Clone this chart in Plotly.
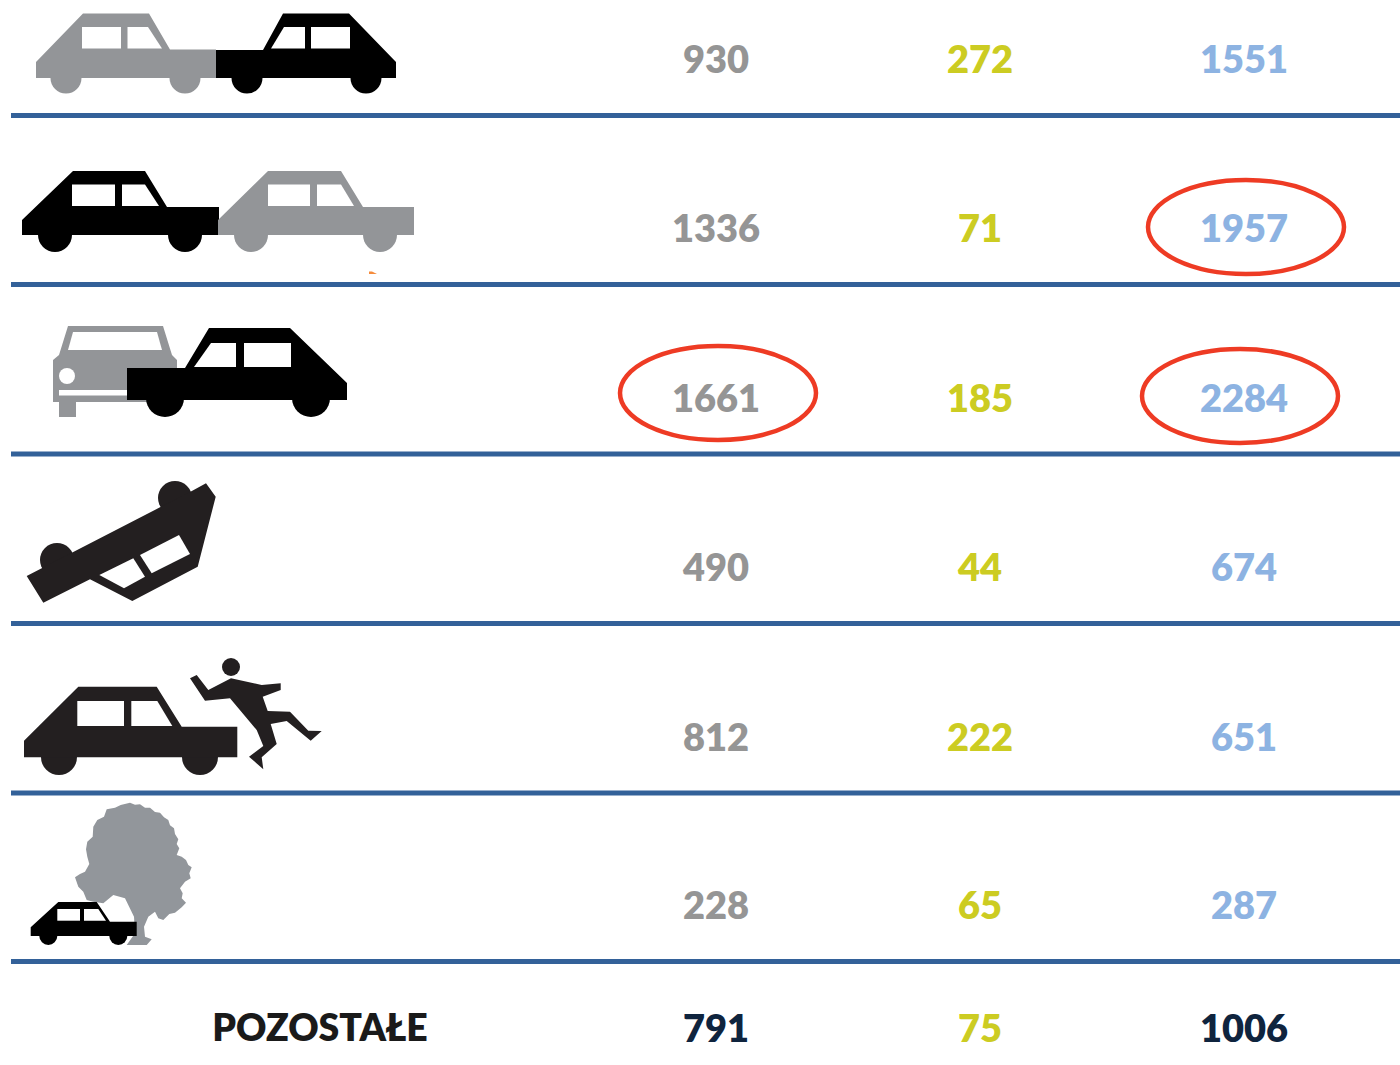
import plotly.graph_objects as go

# ---- data ----
row_labels = ["czołowe boczne tył", "tył", "boczne", "dachowanie", "pieszy", "drzewo", "POZOSTAŁE"]
col_a = [930, 1336, 1661, 490, 812, 228, 791]
col_b = [272, 71, 185, 44, 222, 65, 75]
col_c = [1551, 1957, 2284, 674, 651, 287, 1006]
other_label = "POZOSTAŁE"

# ---- layout constants (pixels) ----
W, H = 1400, 1065
COL_X = [716, 980, 1244]
ROW_Y = [63, 232, 402, 571, 741, 909, 1032]
RULES_Y = [115.5, 284.5, 454, 623.5, 793, 961.5]
GREY_T, YEL, BLUE, NAVY = "#959595", "#CCCC22", "#8DB3E2", "#0F243E"
G, K, K2, W_ = "#939598", "#000000", "#231F20", "#FFFFFF"
RULE = "#336199"
RED = "#EE3B24"

shapes = []

def poly(pts, color):
    d = "M " + " L ".join(f"{x:.1f},{y:.1f}" for x, y in pts) + " Z"
    shapes.append(dict(type="path", path=d, fillcolor=color, line=dict(width=0), layer="above"))

def circ(cx, cy, r, color):
    shapes.append(dict(type="circle", x0=cx - r, x1=cx + r, y0=cy - r, y1=cy + r,
                       fillcolor=color, line=dict(width=0), layer="above"))

def z(pts, y0):
    return [(x / 3, y0 + y / 3) for x, y in pts]

# row 1
circ(66, 78, 15.5, G); circ(185, 78, 15.5, G)
poly([(36, 62), (83, 13.5), (149, 13.5), (170, 49.5), (216, 49.5), (216, 78), (36, 78)], G)
poly([(82, 27), (121, 27), (121, 48.5), (82, 48.5)], W_)
poly([(127.5, 27), (148, 27), (162, 48.5), (127.5, 48.5)], W_)
circ(247, 78, 15.5, K); circ(366, 78, 15.5, K)
poly([(216, 50), (263, 50), (283, 13.5), (349, 13.5), (396, 62), (396, 78), (216, 78)], K)
poly([(271, 48.5), (284, 27), (305, 27), (305, 48.5)], W_)
poly([(311, 27), (350, 27), (350, 48.5), (311, 48.5)], W_)

# row 2
circ(55, 235, 17, K); circ(185, 235, 17, K)
poly([(22, 220), (73, 171), (145, 171), (167, 207), (219, 207), (219, 235), (22, 235)], K)
poly([(72, 184.5), (115, 184.5), (115, 206), (72, 206)], W_)
poly([(122, 184.5), (145, 184.5), (159, 206), (122, 206)], W_)
circ(251, 235, 17, G); circ(380, 235, 17, G)
poly([(218, 220), (268, 171), (341, 171), (363, 207), (414, 207), (414, 235), (218, 235)], G)
poly([(268, 184.5), (310, 184.5), (310, 206), (268, 206)], W_)
poly([(317, 184.5), (341, 184.5), (354, 206), (317, 206)], W_)
poly([(369, 271.5), (372, 271.5), (377, 274), (369, 274)], "#F58B3C")

# row 3
poly([(53, 402), (53, 360), (59, 355), (68, 326), (163, 326), (172, 355), (177, 360), (177, 402)], G)
poly([(59, 402), (76, 402), (76, 417), (59, 417)], G)
poly([(68, 350), (73, 332), (157, 332), (162, 350)], W_)
circ(67, 376, 8, W_)
poly([(59, 390), (130, 390), (130, 395.5), (59, 395.5)], W_)
circ(165, 398, 19, K); circ(311, 398, 19, K)
poly([(127, 368), (185, 368), (209, 328), (290, 328), (347, 383), (347, 400), (127, 400)], K)
poly([(194, 367), (211, 343), (236, 343), (236, 367)], W_)
poly([(244, 343), (291, 343), (291, 367), (244, 367)], W_)

# row 4
circ(57, 560, 17, K2); circ(175, 498, 17, K2)
poly(z([(80, 828), (480, 622), (577, 572), (618, 550), (647, 590), (593, 800), (397, 903), (270, 838), (130, 908)], 300), K2)
poly(z([(298, 825), (400, 775), (435, 830), (372, 865)], 300), W_)
poly(z([(420, 765), (537, 705), (570, 762), (455, 820)], 300), W_)

# row 5
circ(59, 757, 18, K2); circ(200, 757, 18, K2)
poly(z([(72, 302), (235, 140), (470, 140), (545, 260), (712, 260), (712, 352), (72, 352)], 640), K2)
poly(z([(232, 183), (372, 183), (372, 258), (232, 258)], 640), W_)
poly(z([(394, 183), (472, 183), (517, 258), (394, 258)], 640), W_)
circ(231, 667, 9, K2)
poly(z([(570, 115), (590, 105), (625, 150), (693, 115), (785, 135), (842, 130), (842, 150), (788, 170),
        (803, 213), (870, 215), (925, 272), (965, 273), (932, 302), (860, 243), (812, 252), (830, 312),
        (785, 352), (790, 388), (747, 350), (790, 318), (770, 270), (690, 175), (615, 182)], 640), K2)

# row 6
TREE = "#92969B"
poly(z([(390, 488), (405, 494), (420, 493), (435, 503), (450, 503), (465, 516), (480, 518), (492, 532), (505, 540),
        (510, 556), (522, 565), (525, 582), (535, 598), (530, 612), (538, 625), (530, 645), (545, 650), (558, 660),
        (565, 675), (575, 682), (568, 700), (572, 715), (555, 725), (540, 745), (548, 760), (545, 775), (558, 788),
        (545, 802), (525, 818), (508, 822), (490, 840), (475, 835), (465, 815), (445, 830), (432, 860), (435, 890),
        (455, 898), (440, 915), (380, 915), (405, 880), (402, 830), (375, 775), (340, 765), (310, 790), (280, 785),
        (260, 780), (250, 755), (235, 740), (225, 712), (240, 702), (255, 695), (268, 672), (262, 650), (258, 628),
        (262, 605), (278, 590), (280, 560), (292, 540), (312, 530), (320, 508), (345, 503), (362, 495)], 640), TREE)
circ(48.3, 936, 9, K); circ(118.3, 936, 9, K)
poly(z([(92, 862), (175, 786), (290, 786), (330, 845), (410, 845), (410, 888), (92, 888)], 640), K)
poly(z([(172, 807), (240, 807), (240, 842), (172, 842)], 640), W_)
poly(z([(252, 807), (295, 807), (318, 842), (252, 842)], 640), W_)

# rules
for y in RULES_Y:
    shapes.append(dict(type="line", x0=11, x1=1400, y0=y, y1=y, line=dict(color=RULE, width=5), layer="below"))

# red ellipses
for cx, cy in [(1246, 227), (718, 393), (1240, 396)]:
    shapes.append(dict(type="circle", x0=cx - 98, x1=cx + 98, y0=cy - 47, y1=cy + 47,
                       fillcolor="rgba(0,0,0,0)", line=dict(color=RED, width=4.5), layer="above"))

fig = go.Figure()
FONT = "Lato"
SIZE = 38
series = [
    (col_a, [GREY_T] * 6 + [NAVY]),
    (col_b, [YEL] * 7),
    (col_c, [BLUE] * 6 + [NAVY]),
]
for xpos, (vals, cols) in zip(COL_X, series):
    fig.add_trace(go.Scatter(
        x=[xpos] * len(vals), y=ROW_Y, mode="text", text=[str(v) for v in vals],
        textposition="middle center",
        textfont=dict(family=FONT, size=SIZE, color=cols, weight=800),
        showlegend=False, hoverinfo="skip"))
fig.add_trace(go.Scatter(
    x=[320], y=[ROW_Y[-1]], mode="text", text=[other_label], textposition="middle center",
    textfont=dict(family=FONT, size=37.4, color="#1A1A1A", weight=800),
    showlegend=False, hoverinfo="skip"))

fig.update_layout(
    width=W, height=H, margin=dict(l=0, r=0, t=0, b=0),
    paper_bgcolor="white", plot_bgcolor="white", shapes=shapes,
    xaxis=dict(range=[0, W], visible=False, fixedrange=True),
    yaxis=dict(range=[H, 0], visible=False, fixedrange=True),
)
fig.write_html("out.html", config={"displayModeBar": False},
               post_script="document.body.style.margin='0';document.body.style.overflow='hidden';")
